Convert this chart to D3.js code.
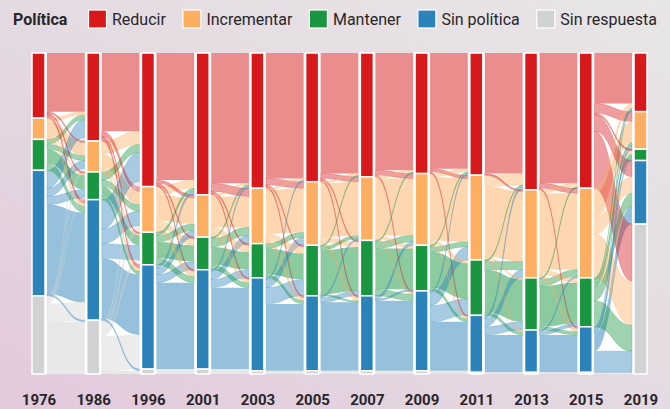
<!DOCTYPE html>
<html>
<head>
<meta charset="utf-8">
<script src="https://cdn.jsdelivr.net/npm/d3@7"></script>
<style>
  html, body { margin: 0; padding: 0; }
  body { width: 670px; height: 409px; overflow: hidden; font-family: Roboto, "Noto Sans", sans-serif; }
</style>
</head>
<body>
<svg id="chart" width="670" height="409"></svg>
<script>
// Survey years (columns)
const years = ["1976", "1986", "1996", "2001", "2003", "2005", "2007", "2009", "2011", "2013", "2015", "2019"];

// Policy categories, in stacking order from top
const categories = ["Reducir", "Incrementar", "Mantener", "Sin política", "Sin respuesta"];
const colors = ["#d7191c", "#fdae61", "#1a9641", "#2b83ba", "#d1d2d4"];

// Number of countries in each category, per year
const reducir      = [40, 54, 82, 87, 83, 79, 76, 74, 75, 84, 83, 36];
const incrementar  = [13, 19, 28, 26, 34, 39, 39, 44, 52, 54, 55, 23];
const mantener     = [19, 17, 20, 20, 21, 31, 34, 28, 34, 32, 30, 7];
const sinPolitica  = [77, 74, 64, 61, 57, 46, 46, 49, 35, 26, 28, 39];
const sinRespuesta = [48, 33, 3, 3, 2, 2, 2, 2, 1, 1, 1, 92];

// Country movements between consecutive years: rows = from, columns = to
// (order: Reducir, Incrementar, Mantener, Sin política, Sin respuesta)
const flows1976to1986 = [[36,1,1,2,0],[2,8,1,2,0],[3,3,9,4,0],[11,5,5,55,1],[2,2,1,11,32]];
const flows1986to1996 = [[48,3,1,2,0],[8,8,1,2,0],[5,4,6,2,0],[18,9,9,37,1],[3,4,3,21,2]];
const flows1996to2001 = [[78,2,1,1,0],[5,16,4,3,0],[2,4,10,4,0],[2,4,5,53,0],[0,0,0,0,3]];
const flows2001to2003 = [[80,5,1,1,0],[1,19,4,2,0],[1,5,11,3,0],[1,5,5,50,0],[0,0,0,1,2]];
const flows2003to2005 = [[77,4,1,1,0],[1,27,4,2,0],[0,3,16,2,0],[1,5,10,41,0],[0,0,0,0,2]];
const flows2005to2007 = [[74,3,1,1,0],[1,33,3,2,0],[1,2,27,1,0],[0,1,3,42,0],[0,0,0,0,2]];
const flows2007to2009 = [[72,3,0,1,0],[1,35,2,1,0],[1,4,25,4,0],[0,2,1,43,0],[0,0,0,0,2]];
const flows2009to2011 = [[71,2,0,1,0],[2,39,2,1,0],[1,3,22,2,0],[1,8,10,30,0],[0,0,0,1,1]];
const flows2011to2013 = [[74,1,0,0,0],[7,43,1,1,0],[1,5,26,2,0],[2,5,5,23,0],[0,0,0,0,1]];
const flows2013to2015 = [[80,3,0,1,0],[2,47,3,2,0],[1,4,25,2,0],[0,1,2,23,0],[0,0,0,0,1]];
const flows2015to2019 = [[31,6,1,10,35],[3,13,2,10,27],[1,2,3,8,16],[1,2,1,11,13],[0,0,0,0,1]];

const series = [reducir, incrementar, mantener, sinPolitica, sinRespuesta];
const transitions = [flows1976to1986, flows1986to1996, flows1996to2001, flows2001to2003,
  flows2003to2005, flows2005to2007, flows2007to2009, flows2009to2011, flows2011to2013,
  flows2013to2015, flows2015to2019];

const W = 670, H = 409;
const svg = d3.select("#chart");

// Page background
const defs = svg.append("defs");
const bg = defs.append("linearGradient").attr("id", "bg")
  .attr("x1", "1").attr("y1", "0").attr("x2", "0").attr("y2", "1");
bg.append("stop").attr("offset", "0%").attr("stop-color", "#e8e6e6");
bg.append("stop").attr("offset", "45%").attr("stop-color", "#e5dce2");
bg.append("stop").attr("offset", "100%").attr("stop-color", "#e2c9dc");
svg.append("rect").attr("width", W).attr("height", H).attr("fill", "url(#bg)");

const total = d3.sum(series, s => s[0]);
const x = d3.scalePoint().domain(years).range([38.5, 640.5]);
const y = d3.scaleLinear().domain([0, total]).range([53, 374]);
const barW = 13;

// Plot area background
svg.append("rect")
  .attr("x", x(years[0]) - barW / 2).attr("y", y(0))
  .attr("width", x(years[years.length - 1]) - x(years[0]) + barW)
  .attr("height", y(total) - y(0))
  .attr("fill", "#ffffff");

// Stacked node tops per year
const tops = years.map((yr, k) => {
  let acc = 0;
  return series.map(s => { const t = acc; acc += s[k]; return t; });
});

function band(xa, xb, s0, s1, t0, t1) {
  const xm = (xa + xb) / 2;
  const p = d3.path();
  p.moveTo(xa, s0);
  p.bezierCurveTo(xm, s0, xm, t0, xb, t0);
  p.lineTo(xb, t1);
  p.bezierCurveTo(xm, t1, xm, s1, xa, s1);
  p.closePath();
  return p.toString();
}

// Build link shapes
const links = [];
transitions.forEach((m, k) => {
  const xa = x(years[k]) + barW / 2 + 2;
  const xb = x(years[k + 1]) - barW / 2 - 2;
  const srcOff = categories.map(() => 0);
  const tgtOff = categories.map(() => 0);
  const pos = [];
  for (let i = 0; i < 5; i++) {
    for (let j = 0; j < 5; j++) {
      const v = m[i][j];
      pos.push({ i, j, v, s: tops[k][i] + srcOff[i] });
      srcOff[i] += v;
    }
  }
  for (let j = 0; j < 5; j++) {
    for (let i = 0; i < 5; i++) {
      const d = pos.find(p => p.i === i && p.j === j);
      d.t = tops[k + 1][j] + tgtOff[j];
      tgtOff[j] += d.v;
    }
  }
  pos.filter(d => d.v > 0).forEach(d => {
    links.push({
      stay: d.i === d.j, v: d.v, color: colors[d.i],
      path: band(xa, xb, y(d.s), y(d.s + d.v), y(d.t), y(d.t + d.v))
    });
  });
});

const linkG = svg.append("g");
// Unchanged policies first, then the countries that switched
linkG.selectAll("path.stay")
  .data(links.filter(d => d.stay))
  .join("path")
  .attr("class", "stay")
  .attr("d", d => d.path)
  .attr("fill", d => d.color)
  .attr("fill-opacity", 0.5);

linkG.selectAll("path.move")
  .data(links.filter(d => !d.stay).sort((a, b) => b.v - a.v))
  .join("path")
  .attr("class", "move")
  .attr("d", d => d.path)
  .attr("fill", d => d.color)
  .attr("fill-opacity", 0.42)
  .attr("stroke", d => d.color)
  .attr("stroke-opacity", 0.35)
  .attr("stroke-width", 0.6);

// Stacked bars
const nodeG = svg.append("g");
years.forEach((yr, k) => {
  nodeG.selectAll(null)
    .data(series.map((s, c) => ({ c, v: s[k], t: tops[k][c] })).filter(d => d.v > 0))
    .join("rect")
    .attr("x", x(yr) - barW / 2)
    .attr("y", d => y(d.t))
    .attr("width", barW)
    .attr("height", d => y(d.t + d.v) - y(d.t))
    .attr("fill", d => colors[d.c])
    .attr("stroke", "#ffffff")
    .attr("stroke-width", 1.5);
});

// Year labels
const xAxis = d3.axisBottom(x).tickSize(0).tickPadding(0);
const axisG = svg.append("g").attr("transform", "translate(0,394)").call(xAxis);
axisG.select(".domain").remove();
axisG.selectAll("text")
  .attr("font-family", "Roboto, sans-serif")
  .attr("font-size", 15)
  .attr("font-weight", 700)
  .attr("fill", "#29252a");

// Legend
const legend = svg.append("g").attr("transform", "translate(13,0)");
const title = legend.append("text")
  .attr("x", 0).attr("y", 25)
  .attr("font-size", 16).attr("font-weight", 700).attr("fill", "#29252a")
  .text("Política");
let lx = 75.5;
categories.forEach((c, i) => {
  legend.append("rect")
    .attr("x", lx).attr("y", 10).attr("width", 18).attr("height", 18)
    .attr("fill", colors[i]).attr("stroke", "#ffffff").attr("stroke-width", 1.2);
  const t = legend.append("text")
    .attr("x", lx + 23.5).attr("y", 25)
    .attr("font-size", 16).attr("fill", "#29252a")
    .text(c);
  lx += 23.5 + t.node().getComputedTextLength() + 17;
});
</script>
</body>
</html>
